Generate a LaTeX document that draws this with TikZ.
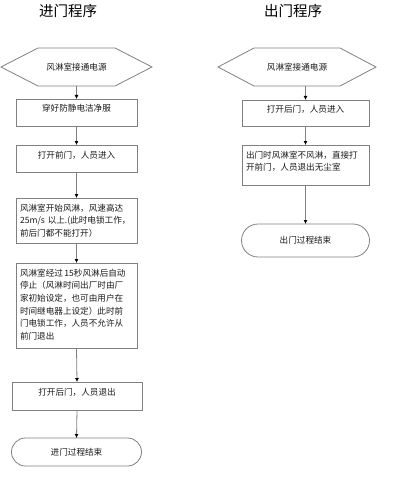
\documentclass[tikz,border=0pt]{standalone}
\usepackage{fontspec}
\setmainfont{Noto Sans CJK SC}
\usetikzlibrary{arrows.meta}
\definecolor{linegray}{HTML}{808080}
\definecolor{textgray}{HTML}{1A1A1A}
\begin{document}
\begin{tikzpicture}[x=1pt,y=-1pt,
  every node/.style={outer sep=0pt,text=textgray},
  smallfont/.style={font=\fontsize{8.6}{12.7}\selectfont},
  stepbox/.style={draw=linegray,line width=0.8pt,anchor=north,text width=#1,
    inner xsep=4pt,inner ysep=5pt,text height=8pt,smallfont},
  endbox/.style={draw=linegray,line width=0.8pt,rounded corners=#1,
    minimum height=2*#1,smallfont},
  hexbox/.style={minimum height=38pt,smallfont},
  hexline/.style={draw=linegray,line width=0.8pt},
  arr/.style={draw=linegray,line width=0.8pt,-{Latex[length=4pt,width=4pt,color=black]}}]
\useasboundingbox (0,0) rectangle (400,500);

\node[font=\fontsize{14.5}{16}\selectfont,text=black] (t1) at (68,11) {进门程序};
\node[font=\fontsize{14.5}{16}\selectfont,text=black] (t2) at (293,11) {出门程序};

\node[hexbox,minimum width=151pt] (s1) at (76.5,67) {风淋室接通电源};
\draw[hexline] (s1.west) -- ([xshift=37pt]s1.north west) -- ([xshift=-37pt]s1.north east)
  -- (s1.east) -- ([xshift=-37pt]s1.south east) -- ([xshift=37pt]s1.south west) -- cycle;

\node[stepbox=113pt,align=center,text depth=9pt] (p1) at (76.5,99) {穿好防静电洁净服};
\node[stepbox=113pt,align=center,text depth=9pt] (p2) at (76.5,145) {打开前门，人员进入};
\node[stepbox=113pt,align=left,text depth=27pt] (p3) at (76.5,198)
  {风淋室开始风淋，风速高达\\25m/s 以上.(此时电锁工作，\\前后门都不能打开）};
\node[stepbox=113pt,align=left,text depth=67pt] (p4) at (76.5,263)
  {风淋室经过\,15秒风淋后自动\\停止（风淋时间出厂时由厂\\家初始设定，也可由用户在\\时间继电器上设定）此时前\\门电锁工作，人员不允许从\\前门退出};
\node[stepbox=122pt,align=center,text depth=10pt] (p5) at (77,382) {打开后门，人员退出};
\node[endbox=14pt,minimum width=130pt] (e1) at (76.5,452) {进门过程结束};

\draw[arr] (s1.south) -- (p1.north);
\draw[arr] (p1.south) -- (p2.north);
\draw[arr] (p2.south) -- (p3.north);
\draw[arr] (p3.south) -- (p4.north);
\draw[arr] (p4.south) -- (p5.north);
\draw[arr] (p5.south) -- (e1.north);

\node[hexbox,minimum width=158pt] (s2) at (297,67) {风淋室接通电源};
\draw[hexline] (s2.west) -- ([xshift=36pt]s2.north west) -- ([xshift=-36pt]s2.north east)
  -- (s2.east) -- ([xshift=-36pt]s2.south east) -- ([xshift=36pt]s2.south west) -- cycle;

\node[stepbox=119pt,align=center,text depth=8pt] (q1) at (305.5,100) {打开后门，人员进入};
\node[stepbox=119pt,align=left,text depth=22pt] (q2) at (305.5,145)
  {出门时风淋室不风淋，直接打\\开前门，人员退出无尘室};
\node[endbox=16.5pt,minimum width=128pt] (e2) at (305.5,240.5) {出门过程结束};

\draw[arr] (s2.south -| q1.north) -- (q1.north);
\draw[arr] (q1.south) -- (q2.north);
\draw[arr] (q2.south) -- (e2.north);
\end{tikzpicture}
\end{document}
